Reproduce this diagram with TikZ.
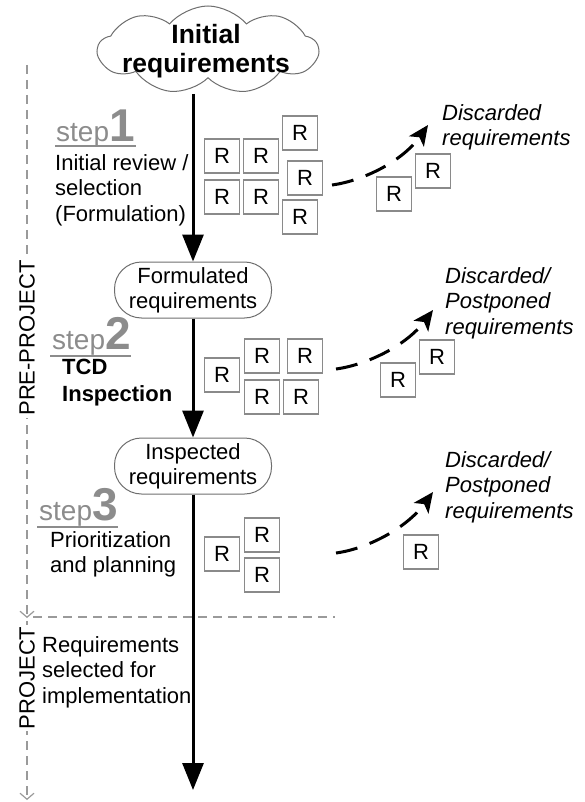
\documentclass[tikz,border=0pt]{standalone}
\usepackage{fontspec}
\setmainfont{Liberation Sans}
\usetikzlibrary{arrows.meta,shapes.symbols,shapes.misc}
\newcommand\fsz[2]{\fontsize{#1}{#2}\selectfont}
\definecolor{stepgray}{HTML}{8C8C8C}
\definecolor{boxgray}{HTML}{8A8A8A}
\definecolor{dashgray}{HTML}{9A9A9A}
\definecolor{linegray}{HTML}{6E6E6E}
\begin{document}
\begin{tikzpicture}[x=1pt,y=-1pt,
  rbox/.style={draw=boxgray,line width=1.2pt,minimum width=35pt,minimum height=34pt,inner sep=0pt,font=\fsz{22}{24}},
  state/.style={draw=linegray,line width=1pt,rounded corners=27pt,minimum width=157pt,minimum height=56pt,align=center,font=\fsz{22}{25},inner sep=0pt},
  flow/.style={line width=3pt,-{Triangle[length=27pt,width=21pt]}},
  discard/.style={line width=3pt,dash pattern=on 22pt off 13pt,-{Stealth[length=20pt,width=18pt,inset=5pt]}},
  steplbl/.style={anchor=base west,text=stepgray,inner sep=0pt},
  stepline/.style={stepgray,line width=2.2pt},
  desc/.style={anchor=north west,align=left,inner sep=0pt,font=\fsz{22}{25.5}},
  disctext/.style={anchor=north west,align=left,inner sep=0pt,font=\fsz{22}{25.5}\itshape},
  phase/.style={dashgray,line width=1.2pt,dash pattern=on 9pt off 6pt},
  phasetip/.style={-{Straight Barb[length=6pt,width=14pt]}},
  phasetext/.style={rotate=90,fill=white,inner sep=2pt,font=\fsz{22}{24}},
]
\useasboundingbox (0,0) rectangle (584,802);

% phases
\coordinate (pptop) at (27,65);
\coordinate (ppend) at (27,618);
\coordinate (ptop) at (27,621);
\coordinate (pend) at (27,800);
\coordinate (hl) at (33,617);
\coordinate (hr) at (335,617);
\draw[phase,phasetip] (pptop) -- (ppend);
\draw[phase,phasetip] (ptop) -- (pend);
\draw[phase] (hl) -- (hr);
\node[phasetext] (ppt) at (27,338) {PRE-PROJECT};
\node[phasetext] (pt) at (27,678) {PROJECT};

% main flow
\node[cloud,cloud puffs=9,cloud puff arc=100,cloud ignores aspect,draw=linegray,line width=1pt,
  minimum width=220pt,minimum height=88pt,inner sep=0pt] (cloud) at (208,50) {};
\node[align=center,inner sep=0pt,font=\fsz{26.5}{29}\bfseries] (ctext) at (206,51) {Initial\\requirements};
\node[state] (form) at (193,290) {Formulated\\requirements};
\node[state] (insp) at (193,466) {Inspected\\requirements};
\coordinate (end) at (193,790);
\coordinate (cstart) at (193,94);
\draw[flow] (cstart) -- (form.north);
\draw[flow] (form.south) -- (insp.north);
\draw[flow] (insp.south) -- (end);

% step labels
\node[steplbl] (s1) at (56,142) {\fsz{28}{30}step\fsz{46}{46}\bfseries 1};
\coordinate (u1a) at (55,146); \coordinate (u1b) at (136,146);
\draw[stepline] (u1a) -- (u1b);
\node[desc] (d1) at (55,154) {Initial review /\\selection\\(Formulation)};

\node[steplbl] (s2) at (52,349) {\fsz{28}{30}step\fsz{46}{46}\bfseries 2};
\coordinate (u2a) at (50,356); \coordinate (u2b) at (131,356);
\draw[stepline] (u2a) -- (u2b);
\node[desc,font=\fsz{22}{27}\bfseries] (d2) at (62,359) {TCD\\Inspection};

\node[steplbl] (s3) at (39,520) {\fsz{28}{30}step\fsz{46}{46}\bfseries 3};
\coordinate (u3a) at (37,527); \coordinate (u3b) at (118,527);
\draw[stepline] (u3a) -- (u3b);
\node[desc] (d3) at (50,531) {Prioritization\\and planning};

\node[desc] (d4) at (42,636) {Requirements\\selected for\\implementation};

% R boxes step 1
\node[rbox] (r11) at (222,156) {R};
\node[rbox] (r12) at (261,156) {R};
\node[rbox] (r13) at (222,197) {R};
\node[rbox] (r14) at (261,197) {R};
\node[rbox] (r15) at (300,133) {R};
\node[rbox] (r16) at (305,178) {R};
\node[rbox] (r17) at (300,217) {R};
\node[rbox] (x11) at (394,194) {R};
\node[rbox] (x12) at (433,171) {R};

% R boxes step 2
\node[rbox] (r21) at (222,375) {R};
\node[rbox] (r22) at (262,356) {R};
\node[rbox] (r23) at (305,356) {R};
\node[rbox] (r24) at (262,397) {R};
\node[rbox] (r25) at (301,397) {R};
\node[rbox] (x21) at (398,380) {R};
\node[rbox] (x22) at (437,357) {R};

% R boxes step 3
\node[rbox] (r31) at (222,554) {R};
\node[rbox] (r32) at (262,535) {R};
\node[rbox] (r33) at (262,575) {R};
\node[rbox] (x31) at (421,552) {R};

% discard arrows
\coordinate (a1s) at (332,185); \coordinate (a1e) at (428,125);
\draw[discard] (a1s) .. controls (362,181) and (402,162) .. (a1e);
\coordinate (a2s) at (336,369); \coordinate (a2e) at (433,310);
\draw[discard] (a2s) .. controls (366,365) and (406,346) .. (a2e);
\coordinate (a3s) at (336,553); \coordinate (a3e) at (433,492);
\draw[discard] (a3s) .. controls (366,549) and (406,529) .. (a3e);

\node[disctext] (t1) at (442,104) {Discarded\\requirements};
\node[disctext] (t2) at (445,267) {Discarded/\\Postponed\\requirements};
\node[disctext] (t3) at (445,451) {Discarded/\\Postponed\\requirements};
\end{tikzpicture}
\end{document}
